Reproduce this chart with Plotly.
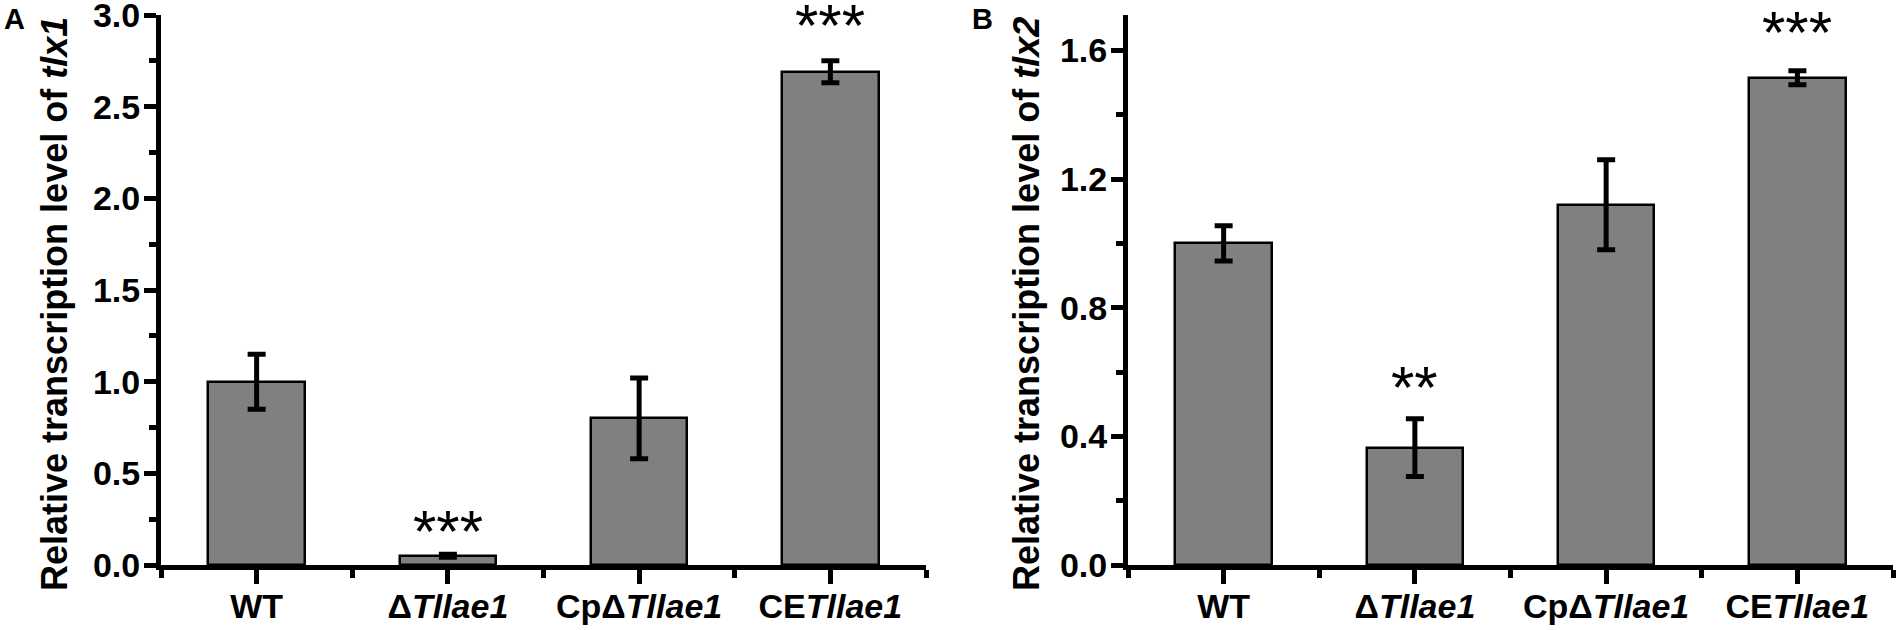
import plotly.graph_objects as go

# strains on the x axis
groups = ["WT", "Δ<i>Tllae1</i>", "CpΔ<i>Tllae1</i>", "CE<i>Tllae1</i>"]

# relative transcription level of tlx1 (panel A)
tlx1_mean = [1.00, 0.05, 0.80, 2.69]
tlx1_err = [0.15, 0.008, 0.22, 0.06]
tlx1_sig = ["", "***", "", "***"]

# relative transcription level of tlx2 (panel B)
tlx2_mean = [1.00, 0.365, 1.12, 1.515]
tlx2_err = [0.055, 0.09, 0.14, 0.022]
tlx2_sig = ["", "**", "", "***"]

FONT = "Liberation Sans, Arial, sans-serif"
BAR = "#808080"

W, H = 1900, 630
ydom = [65 / H, 615 / H]
plot_h = 615 - 65

fig = go.Figure()
xs = list(range(len(groups)))

panels = [
    dict(mean=tlx1_mean, err=tlx1_err, sig=tlx1_sig, xa="x", ya="y",
         yrange=[0, 3.0], dtick=0.5, minor=0.25, gene="tlx1",
         star_px=[0, 36, 0, 48]),
    dict(mean=tlx2_mean, err=tlx2_err, sig=tlx2_sig, xa="x2", ya="y2",
         yrange=[0, 1.71], dtick=0.4, minor=0.2, gene="tlx2",
         star_px=[0, 44, 0, 51]),
]

annots = []
for p in panels:
    fig.add_trace(go.Bar(
        x=xs, y=p["mean"], width=0.505, xaxis=p["xa"], yaxis=p["ya"],
        marker=dict(color=BAR, line=dict(color="black", width=2.5)),
        error_y=dict(type="data", array=p["err"], visible=True,
                     color="black", thickness=5, width=9),
        showlegend=False, hoverinfo="skip"))
    # significance stars above the error bar (domain units so they may
    # sit above the top of the axis range)
    span = p["yrange"][1] - p["yrange"][0]
    for i, s in enumerate(p["sig"]):
        if not s:
            continue
        top = p["mean"][i] + p["err"][i]
        annots.append(dict(x=xs[i], xref=p["xa"],
                           y=top / span + p["star_px"][i] / plot_h,
                           yref=p["ya"] + " domain", text=s,
                           showarrow=False, yanchor="middle", yshift=-13,
                           font=dict(family=FONT, size=60, color="black")))

axis_common = dict(showline=True, linewidth=5, linecolor="black",
                   ticks="outside", tickwidth=5, tickcolor="black",
                   showgrid=False, zeroline=False, mirror=False,
                   ticklabeloverflow="allow", automargin=False)

xdoms = [[161 / W, 926 / W], [1128 / W, 1893 / W]]
for k, p in enumerate(panels):
    sx = "" if k == 0 else "2"
    fig.update_layout(**{
        "xaxis" + sx: dict(axis_common, domain=xdoms[k], range=[-0.5, 3.5],
                           anchor="y" + sx, tickvals=xs, ticktext=groups,
                           ticklen=14, ticklabelstandoff=-7,
                           tickfont=dict(family=FONT, size=34, color="black",
                                         weight="bold"),
                           minor=dict(tickvals=[-0.5, 0.5, 1.5, 2.5, 3.5],
                                      ticks="outside", ticklen=8,
                                      tickwidth=5, tickcolor="black")),
        "yaxis" + sx: dict(axis_common, domain=ydom, range=p["yrange"],
                           anchor="x" + sx, dtick=p["dtick"], tick0=0,
                           tickformat=".1f", ticklen=12,
                           ticklabelstandoff=-3,
                           tickfont=dict(family=FONT, size=34, color="black",
                                         weight="bold"),
                           minor=dict(dtick=p["minor"], tick0=0,
                                      ticks="outside", ticklen=7,
                                      tickwidth=5, tickcolor="black")),
    })

# y axis titles and panel letters
for k, p in enumerate(panels):
    annots.append(dict(x=[54, 1026][k] / W, y=1 - 304 / H, xref="paper",
                       yref="paper", textangle=-90, showarrow=False,
                       xanchor="center", yanchor="middle",
                       text="<b>Relative transcription level of <i>%s</i></b>" % p["gene"],
                       font=dict(family=FONT, size=36, color="black")))
    annots.append(dict(x=[2, 970][k] / W, y=1 - 1 / H, xref="paper",
                       yref="paper", showarrow=False, xanchor="left",
                       yanchor="top", text="<b>%s</b>" % "AB"[k],
                       font=dict(family=FONT, size=29, color="black")))

fig.update_layout(width=W, height=H,
                  margin=dict(l=0, r=0, t=0, b=0, autoexpand=False),
                  paper_bgcolor="white", plot_bgcolor="white",
                  annotations=annots, bargap=0, hovermode=False)

# the page body has a default 8px margin; drop it so the figure sits at 0,0
fig.write_html("out.html", config={"displayModeBar": False},
               post_script="document.body.style.margin='0px';")
